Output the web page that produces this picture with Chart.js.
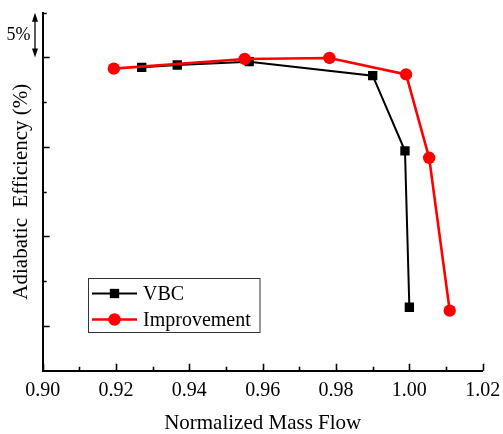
<!DOCTYPE html>
<html>
<head>
<meta charset="utf-8">
<script src="https://cdn.jsdelivr.net/npm/chart.js@4.4.1/dist/chart.umd.min.js"></script>
<style>
  html, body { margin: 0; padding: 0; background: #fff; }
  #wrap { width: 503px; height: 434px; }
</style>
</head>
<body>
<div id="wrap"><canvas id="c" width="503" height="434"></canvas></div>
<script>
// Normalized mass flow and adiabatic efficiency (%) of the two compressors
const flowVBC = [0.927, 0.9367, 0.9563, 0.990, 0.9988, 1.000];
const effVBC  = [88.9, 89.16, 89.53, 87.96, 79.57, 62.09];
const flowImp = [0.9194, 0.9551, 0.9782, 0.9991, 1.0054, 1.0110];
const effImp  = [88.75, 89.83, 89.94, 88.11, 78.79, 61.71];

const seriesNames = ['VBC', 'Improvement'];
const xTickStep = 0.02;
const yTickStep = 5;
const scaleBarLabel = '5%';

const FONT = 'Liberation Serif, Times New Roman, serif';

const toPoints = (xs, ys) => xs.map((x, i) => ({ x: x, y: ys[i] }));

// Inward tick marks: long ones on labelled values, short ones in between
const tickMarks = {
  id: 'tickMarks',
  afterDraw(chart) {
    const { ctx, chartArea: a, scales: { x, y } } = chart;
    ctx.save();
    ctx.strokeStyle = '#000';
    ctx.lineWidth = 1.6;
    ctx.beginPath();
    const xt = x.ticks.map(t => t.value);
    xt.forEach((v, i) => {
      const px = Math.round(x.getPixelForValue(v)) + 0.5;
      ctx.moveTo(px, a.bottom); ctx.lineTo(px, a.bottom - 7);
      if (i < xt.length - 1) {
        const pm = Math.round(x.getPixelForValue((v + xt[i + 1]) / 2)) + 0.5;
        ctx.moveTo(pm, a.bottom); ctx.lineTo(pm, a.bottom - 4);
      }
    });
    y.ticks.forEach(t => {
      const v = t.value;
      if (Math.abs(v - y.min) < 1e-6) return;
      const py = Math.round(y.getPixelForValue(v)) + 0.5;
      const major = Math.abs(((v - 60) % 10 + 10) % 10) < 1e-6;
      ctx.moveTo(a.left, py); ctx.lineTo(a.left + (major ? 7 : 4), py);
    });
    ctx.stroke();
    ctx.restore();
  }
};

// Double-headed arrow spanning one 5% step beside the y axis
const scaleBar = {
  id: 'scaleBar',
  afterDraw(chart) {
    const { ctx, scales: { y } } = chart;
    const x0 = 35;
    const yTop = y.getPixelForValue(95);
    const yBot = y.getPixelForValue(90);
    ctx.save();
    ctx.strokeStyle = '#000';
    ctx.fillStyle = '#000';
    ctx.lineWidth = 1.3;
    ctx.beginPath();
    ctx.moveTo(x0, yTop + 6); ctx.lineTo(x0, yBot - 6);
    ctx.stroke();
    ctx.beginPath();
    ctx.moveTo(x0, yTop); ctx.lineTo(x0 - 3, yTop + 9); ctx.lineTo(x0 + 3, yTop + 9); ctx.closePath();
    ctx.moveTo(x0, yBot); ctx.lineTo(x0 - 3, yBot - 9); ctx.lineTo(x0 + 3, yBot - 9); ctx.closePath();
    ctx.fill();
    ctx.font = '18px ' + FONT;
    ctx.textAlign = 'center';
    ctx.textBaseline = 'middle';
    ctx.fillText(scaleBarLabel, 18.5, (yTop + yBot) / 2);
    ctx.restore();
  }
};

// Boxed legend inside the plot, lower left
const boxLegend = {
  id: 'boxLegend',
  afterDraw(chart) {
    const { ctx } = chart;
    const left = 88.5, top = 278.5, w = 171.5, h = 54;
    ctx.save();
    ctx.fillStyle = '#fff';
    ctx.fillRect(left, top, w, h);
    ctx.strokeStyle = '#333';
    ctx.lineWidth = 1;
    ctx.strokeRect(left, top, w, h);
    chart.data.datasets.forEach((ds, i) => {
      const cy = 293.5 + i * 26;
      ctx.strokeStyle = ds.borderColor;
      ctx.lineWidth = ds.borderWidth;
      ctx.beginPath();
      ctx.moveTo(92, cy); ctx.lineTo(137, cy);
      ctx.stroke();
      ctx.fillStyle = ds.backgroundColor;
      Chart.helpers.drawPoint(ctx, { pointStyle: ds.pointStyle, radius: ds.pointRadius, borderWidth: 0 }, 114.5, cy);
      ctx.fillStyle = '#000';
      ctx.font = '20px ' + FONT;
      ctx.textAlign = 'left';
      ctx.textBaseline = 'middle';
      ctx.fillText(ds.label, 143, cy + 1);
    });
    ctx.restore();
  }
};

new Chart(document.getElementById('c'), {
  type: 'line',
  data: {
    datasets: [
      {
        label: seriesNames[0],
        data: toPoints(flowVBC, effVBC),
        borderColor: '#000000',
        backgroundColor: '#000000',
        borderWidth: 2,
        pointStyle: 'rect',
        pointRadius: 6.6,
        pointBorderWidth: 0,
        order: 2
      },
      {
        label: seriesNames[1],
        data: toPoints(flowImp, effImp),
        borderColor: '#ff0000',
        backgroundColor: '#ff0000',
        borderWidth: 2.6,
        pointStyle: 'circle',
        pointRadius: 6.2,
        pointBorderWidth: 0,
        order: 1
      }
    ]
  },
  options: {
    responsive: false,
    animation: false,
    layout: { padding: { top: 12.7, right: 20.3, left: 0, bottom: 0 } },
    plugins: {
      legend: { display: false },
      tooltip: { enabled: false }
    },
    scales: {
      x: {
        type: 'linear',
        min: 0.90,
        max: 1.02,
        afterFit: s => { s.height = 63.3; s.paddingLeft = 0; s.paddingRight = 0; },
        border: { display: true, color: '#000', width: 2 },
        grid: { display: false, drawTicks: false },
        ticks: {
          stepSize: xTickStep,
          padding: 8,
          color: '#000',
          font: { family: FONT, size: 20 },
          maxRotation: 0,
          callback: v => Number(v).toFixed(2)
        },
        title: {
          display: true,
          text: 'Normalized Mass Flow',
          color: '#000',
          font: { family: FONT, size: 21 },
          padding: { top: 0, bottom: -2 }
        }
      },
      y: {
        type: 'linear',
        min: 55,
        max: 95,
        afterFit: s => { s.width = 42.7; s.paddingTop = 0; s.paddingBottom = 0; },
        border: { display: true, color: '#000', width: 2 },
        grid: { display: false, drawTicks: false },
        ticks: { stepSize: yTickStep, display: false },
        title: {
          display: true,
          text: 'Adiabatic  Efficiency (%)',
          color: '#000',
          font: { family: FONT, size: 21 },
          padding: { top: 9, bottom: 0 }
        }
      }
    }
  },
  plugins: [tickMarks, scaleBar, boxLegend]
});
</script>
</body>
</html>
